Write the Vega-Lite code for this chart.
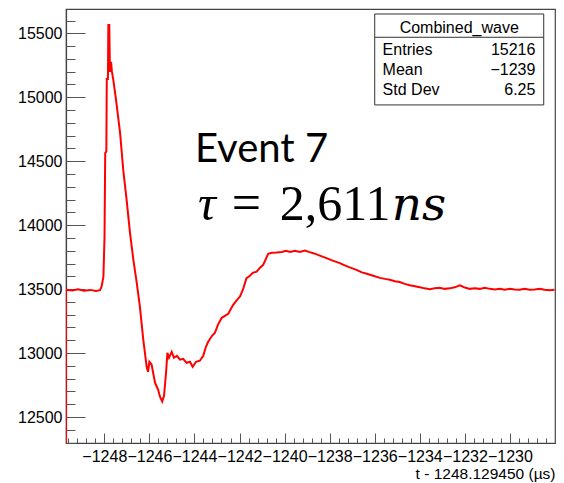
{
  "$schema": "https://vega.github.io/schema/vega-lite/v6.json",
  "width": 489,
  "height": 434,
  "autosize": {"type": "none"},
  "padding": {"left": 66, "top": 9, "right": 9, "bottom": 40},
  "background": "white",
  "view": {"stroke": "#444", "strokeWidth": 1.2},
  "config": {"font": "Liberation Sans"},
  "datasets": {
    "wave": [
      {"t": -1249.70, "v": 12297},
      {"t": -1249.70, "v": 13495},
      {"t": -1249.43, "v": 13490},
      {"t": -1249.17, "v": 13498},
      {"t": -1248.90, "v": 13488},
      {"t": -1248.63, "v": 13494},
      {"t": -1248.37, "v": 13485},
      {"t": -1248.19, "v": 13492},
      {"t": -1248.12, "v": 13520},
      {"t": -1248.04, "v": 13598},
      {"t": -1247.99, "v": 13911},
      {"t": -1247.96, "v": 14565},
      {"t": -1247.91, "v": 14575},
      {"t": -1247.89, "v": 15143},
      {"t": -1247.84, "v": 15143},
      {"t": -1247.82, "v": 15565},
      {"t": -1247.78, "v": 15565},
      {"t": -1247.75, "v": 15198},
      {"t": -1247.70, "v": 15276},
      {"t": -1247.66, "v": 15198},
      {"t": -1247.60, "v": 15135},
      {"t": -1247.48, "v": 14979},
      {"t": -1247.30, "v": 14721},
      {"t": -1247.16, "v": 14432},
      {"t": -1247.01, "v": 14198},
      {"t": -1246.86, "v": 13940},
      {"t": -1246.71, "v": 13729},
      {"t": -1246.56, "v": 13549},
      {"t": -1246.42, "v": 13362},
      {"t": -1246.27, "v": 13104},
      {"t": -1246.12, "v": 12893},
      {"t": -1246.06, "v": 12854},
      {"t": -1246.00, "v": 12932},
      {"t": -1245.90, "v": 12909},
      {"t": -1245.75, "v": 12768},
      {"t": -1245.61, "v": 12713},
      {"t": -1245.53, "v": 12659},
      {"t": -1245.43, "v": 12622},
      {"t": -1245.35, "v": 12666},
      {"t": -1245.26, "v": 12846},
      {"t": -1245.20, "v": 13002},
      {"t": -1245.13, "v": 12963},
      {"t": -1245.01, "v": 13010},
      {"t": -1244.91, "v": 12963},
      {"t": -1244.78, "v": 12979},
      {"t": -1244.64, "v": 12948},
      {"t": -1244.50, "v": 12955},
      {"t": -1244.35, "v": 12924},
      {"t": -1244.20, "v": 12932},
      {"t": -1244.08, "v": 12893},
      {"t": -1243.93, "v": 12932},
      {"t": -1243.76, "v": 12940},
      {"t": -1243.61, "v": 12979},
      {"t": -1243.49, "v": 13049},
      {"t": -1243.39, "v": 13088},
      {"t": -1243.22, "v": 13135},
      {"t": -1243.09, "v": 13159},
      {"t": -1242.96, "v": 13221},
      {"t": -1242.79, "v": 13276},
      {"t": -1242.65, "v": 13291},
      {"t": -1242.50, "v": 13307},
      {"t": -1242.38, "v": 13346},
      {"t": -1242.28, "v": 13377},
      {"t": -1242.11, "v": 13416},
      {"t": -1241.98, "v": 13442},
      {"t": -1241.85, "v": 13495},
      {"t": -1241.69, "v": 13586},
      {"t": -1241.54, "v": 13604},
      {"t": -1241.41, "v": 13627},
      {"t": -1241.24, "v": 13637},
      {"t": -1241.10, "v": 13666},
      {"t": -1240.95, "v": 13690},
      {"t": -1240.83, "v": 13737},
      {"t": -1240.73, "v": 13776},
      {"t": -1240.56, "v": 13784},
      {"t": -1240.35, "v": 13786},
      {"t": -1240.12, "v": 13791},
      {"t": -1239.94, "v": 13799},
      {"t": -1239.76, "v": 13791},
      {"t": -1239.54, "v": 13799},
      {"t": -1239.32, "v": 13791},
      {"t": -1239.10, "v": 13802},
      {"t": -1238.92, "v": 13791},
      {"t": -1238.73, "v": 13781},
      {"t": -1238.52, "v": 13768},
      {"t": -1238.35, "v": 13756},
      {"t": -1238.14, "v": 13742},
      {"t": -1237.95, "v": 13729},
      {"t": -1237.77, "v": 13717},
      {"t": -1237.55, "v": 13703},
      {"t": -1237.33, "v": 13686},
      {"t": -1237.11, "v": 13670},
      {"t": -1236.81, "v": 13651},
      {"t": -1236.57, "v": 13631},
      {"t": -1236.35, "v": 13620},
      {"t": -1236.07, "v": 13604},
      {"t": -1235.77, "v": 13588},
      {"t": -1235.55, "v": 13580},
      {"t": -1235.33, "v": 13573},
      {"t": -1235.11, "v": 13561},
      {"t": -1234.89, "v": 13555},
      {"t": -1234.67, "v": 13541},
      {"t": -1234.44, "v": 13530},
      {"t": -1234.22, "v": 13522},
      {"t": -1234.00, "v": 13514},
      {"t": -1233.78, "v": 13506},
      {"t": -1233.56, "v": 13500},
      {"t": -1233.34, "v": 13506},
      {"t": -1233.11, "v": 13510},
      {"t": -1232.89, "v": 13502},
      {"t": -1232.67, "v": 13506},
      {"t": -1232.45, "v": 13514},
      {"t": -1232.22, "v": 13530},
      {"t": -1232.00, "v": 13512},
      {"t": -1231.78, "v": 13502},
      {"t": -1231.56, "v": 13506},
      {"t": -1231.34, "v": 13502},
      {"t": -1231.12, "v": 13510},
      {"t": -1230.89, "v": 13502},
      {"t": -1230.67, "v": 13498},
      {"t": -1230.45, "v": 13502},
      {"t": -1230.23, "v": 13495},
      {"t": -1230.01, "v": 13502},
      {"t": -1229.79, "v": 13498},
      {"t": -1229.57, "v": 13495},
      {"t": -1229.35, "v": 13502},
      {"t": -1229.12, "v": 13495},
      {"t": -1228.90, "v": 13498},
      {"t": -1228.68, "v": 13502},
      {"t": -1228.46, "v": 13495},
      {"t": -1228.24, "v": 13491},
      {"t": -1228.02, "v": 13495}
    ],
    "box": [{"x": -1236.0, "x2": -1228.5, "y": 15651, "y2": 14940, "ys": 15469}],
    "head": [{"x": -1232.25, "y": 15504, "label": "Combined_wave"}],
    "rows": [
      {"xl": -1235.65, "xr": -1228.87, "y": 15330, "label": "Entries", "value": "15216"},
      {"xl": -1235.65, "xr": -1228.87, "y": 15174, "label": "Mean", "value": "−1239"},
      {"xl": -1235.65, "xr": -1228.87, "y": 15018, "label": "Std Dev", "value": "6.25"}
    ],
    "event": [{"x": -1243.98, "y": 14497, "label": "Event 7"}],
    "tau": [{"x": -1243.845, "y": 14041, "label": "τ"}],
    "ns": [{"x": -1235.24, "y": 14041, "label": "ns"}],
    "tauEq": [{"x": -1241.69, "y": 14041, "label": "="}],
    "tauNum": [{"x": -1240.21, "y": 14041, "label": "2,611"}]
  },
  "resolve": {"axis": {"x": "independent", "y": "independent"}},
  "layer": [
    {
      "data": {"name": "wave"},
      "mark": {"type": "line", "color": "#ff0000", "strokeWidth": 2, "clip": true},
      "encoding": {
        "x": {
          "field": "t", "type": "quantitative",
          "scale": {"domain": [-1249.7, -1228.0], "nice": false, "zero": false},
          "axis": {
            "orient": "bottom",
            "values": [-1248, -1246, -1244, -1242, -1240, -1238, -1236, -1234, -1232, -1230],
            "format": "d",
            "tickSize": -10, "tickColor": "#555", "tickWidth": 1,
            "labelPadding": 15, "labelFontSize": 16, "labelColor": "#000",
            "labelOverlap": false, "labelFlush": false, "labelBound": false,
            "domainColor": "#444", "domainWidth": 1.2,
            "grid": false,
            "title": "t - 1248.129450 (µs)", "titleAnchor": "end",
            "titleFontSize": 15.5, "titleFontWeight": "normal", "titleColor": "#000", "titlePadding": 2
          }
        },
        "y": {
          "field": "v", "type": "quantitative",
          "scale": {"domain": [12297, 15690], "nice": false, "zero": false},
          "axis": {
            "orient": "left",
            "values": [12500, 13000, 13500, 14000, 14500, 15000, 15500],
            "format": "d",
            "tickSize": -19, "tickColor": "#555", "tickWidth": 1,
            "labelPadding": 23, "labelFontSize": 16, "labelColor": "#000",
            "labelOverlap": false, "labelBound": false,
            "domainColor": "#444", "domainWidth": 1.2,
            "grid": false, "title": null
          }
        }
      }
    },
    {
      "data": {"name": "box"},
      "mark": {"type": "rect", "fill": "white", "stroke": "#333", "strokeWidth": 1},
      "encoding": {
        "x": {
          "field": "x", "type": "quantitative",
          "scale": {"domain": [-1249.7, -1228.0], "nice": false, "zero": false},
          "axis": {
            "orient": "bottom",
            "values": [-1249.6, -1249.2, -1248.8, -1248.4, -1247.6, -1247.2, -1246.8, -1246.4, -1245.6, -1245.2, -1244.8, -1244.4, -1243.6, -1243.2, -1242.8, -1242.4, -1241.6, -1241.2, -1240.8, -1240.4, -1239.6, -1239.2, -1238.8, -1238.4, -1237.6, -1237.2, -1236.8, -1236.4, -1235.6, -1235.2, -1234.8, -1234.4, -1233.6, -1233.2, -1232.8, -1232.4, -1231.6, -1231.2, -1230.8, -1230.4, -1229.6, -1229.2, -1228.8, -1228.4],
            "tickSize": -5, "tickColor": "#555", "tickWidth": 1,
            "labels": false, "domain": false, "grid": false, "title": null
          }
        },
        "x2": {"field": "x2"},
        "y": {
          "field": "y", "type": "quantitative",
          "scale": {"domain": [12297, 15690], "nice": false, "zero": false},
          "axis": {
            "orient": "left",
            "values": [12300, 12400, 12600, 12700, 12800, 12900, 13100, 13200, 13300, 13400, 13600, 13700, 13800, 13900, 14100, 14200, 14300, 14400, 14600, 14700, 14800, 14900, 15100, 15200, 15300, 15400, 15600],
            "tickSize": -9, "tickColor": "#555", "tickWidth": 1,
            "labels": false, "domain": false, "grid": false, "title": null
          }
        },
        "y2": {"field": "y2"}
      }
    },
    {
      "data": {"name": "box"},
      "mark": {"type": "rule", "stroke": "#333", "strokeWidth": 1},
      "encoding": {
        "x": {"field": "x", "type": "quantitative", "scale": {"domain": [-1249.7, -1228.0], "nice": false, "zero": false}, "axis": null},
        "x2": {"field": "x2"},
        "y": {"field": "ys", "type": "quantitative", "scale": {"domain": [12297, 15690], "nice": false, "zero": false}, "axis": null}
      }
    },
    {
      "data": {"name": "head"},
      "mark": {"type": "text", "align": "center", "baseline": "alphabetic", "fontSize": 16, "color": "#000"},
      "encoding": {
        "x": {"field": "x", "type": "quantitative", "scale": {"domain": [-1249.7, -1228.0], "nice": false, "zero": false}, "axis": null},
        "y": {"field": "y", "type": "quantitative", "scale": {"domain": [12297, 15690], "nice": false, "zero": false}, "axis": null},
        "text": {"field": "label"}
      }
    },
    {
      "data": {"name": "rows"},
      "mark": {"type": "text", "align": "left", "baseline": "alphabetic", "fontSize": 16, "color": "#000"},
      "encoding": {
        "x": {"field": "xl", "type": "quantitative", "scale": {"domain": [-1249.7, -1228.0], "nice": false, "zero": false}, "axis": null},
        "y": {"field": "y", "type": "quantitative", "scale": {"domain": [12297, 15690], "nice": false, "zero": false}, "axis": null},
        "text": {"field": "label"}
      }
    },
    {
      "data": {"name": "rows"},
      "mark": {"type": "text", "align": "right", "baseline": "alphabetic", "fontSize": 16, "color": "#000"},
      "encoding": {
        "x": {"field": "xr", "type": "quantitative", "scale": {"domain": [-1249.7, -1228.0], "nice": false, "zero": false}, "axis": null},
        "y": {"field": "y", "type": "quantitative", "scale": {"domain": [12297, 15690], "nice": false, "zero": false}, "axis": null},
        "text": {"field": "value"}
      }
    },
    {
      "data": {"name": "event"},
      "mark": {"type": "text", "align": "left", "baseline": "alphabetic", "font": "Lato", "fontSize": 40, "color": "#000"},
      "encoding": {
        "x": {"field": "x", "type": "quantitative", "scale": {"domain": [-1249.7, -1228.0], "nice": false, "zero": false}, "axis": null},
        "y": {"field": "y", "type": "quantitative", "scale": {"domain": [12297, 15690], "nice": false, "zero": false}, "axis": null},
        "text": {"field": "label"}
      }
    },
    {
      "data": {"name": "tau"},
      "mark": {"type": "text", "align": "left", "baseline": "alphabetic", "font": "Liberation Serif", "fontStyle": "italic", "fontSize": 50, "color": "#000"},
      "encoding": {
        "x": {"field": "x", "type": "quantitative", "scale": {"domain": [-1249.7, -1228.0], "nice": false, "zero": false}, "axis": null},
        "y": {"field": "y", "type": "quantitative", "scale": {"domain": [12297, 15690], "nice": false, "zero": false}, "axis": null},
        "text": {"field": "label"}
      }
    },
    {
      "data": {"name": "ns"},
      "mark": {"type": "text", "align": "left", "baseline": "alphabetic", "font": "DejaVu Serif", "fontStyle": "italic", "fontSize": 47, "color": "#000"},
      "encoding": {
        "x": {"field": "x", "type": "quantitative", "scale": {"domain": [-1249.7, -1228.0], "nice": false, "zero": false}, "axis": null},
        "y": {"field": "y", "type": "quantitative", "scale": {"domain": [12297, 15690], "nice": false, "zero": false}, "axis": null},
        "text": {"field": "label"}
      }
    },
    {
      "data": {"name": "tauEq"},
      "mark": {"type": "text", "align": "center", "baseline": "alphabetic", "font": "Liberation Serif", "fontSize": 52, "color": "#000"},
      "encoding": {
        "x": {"field": "x", "type": "quantitative", "scale": {"domain": [-1249.7, -1228.0], "nice": false, "zero": false}, "axis": null},
        "y": {"field": "y", "type": "quantitative", "scale": {"domain": [12297, 15690], "nice": false, "zero": false}, "axis": null},
        "text": {"field": "label"}
      }
    },
    {
      "data": {"name": "tauNum"},
      "mark": {"type": "text", "align": "left", "baseline": "alphabetic", "font": "Liberation Serif", "fontSize": 50, "color": "#000"},
      "encoding": {
        "x": {"field": "x", "type": "quantitative", "scale": {"domain": [-1249.7, -1228.0], "nice": false, "zero": false}, "axis": null},
        "y": {"field": "y", "type": "quantitative", "scale": {"domain": [12297, 15690], "nice": false, "zero": false}, "axis": null},
        "text": {"field": "label"}
      }
    }
  ]
}
